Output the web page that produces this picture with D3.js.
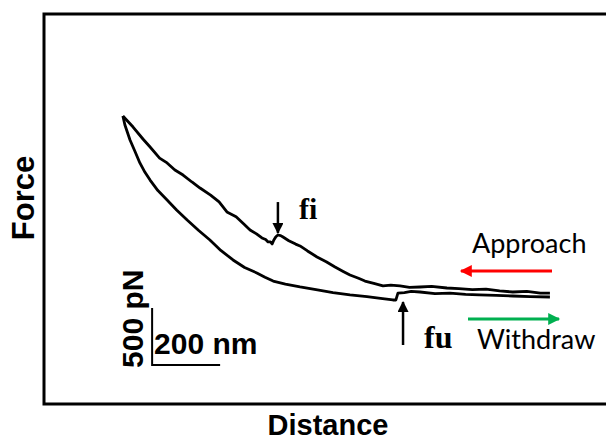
<!DOCTYPE html>
<html>
<head>
<meta charset="utf-8">
<script src="https://cdn.jsdelivr.net/npm/d3@7"></script>
<style>
  html, body { margin: 0; padding: 0; background: #fff; }
  .axis-label { font-family: "Liberation Sans", Arial, sans-serif; font-weight: bold; }
  .event { font-family: "Liberation Serif", "Times New Roman", serif; font-weight: bold; }
  .dir { font-family: Lato, "Open Sans", sans-serif; }
</style>
</head>
<body>
<div id="chart"></div>
<script>
const width = 606;
const height = 442;

// approach trace (upper, with the fi event), distance in nm, force in pN
const approach_nm = [232, 262, 291, 312, 340, 362, 385, 409, 435, 459, 490, 515, 538, 565, 590, 606, 625, 641, 652, 659, 666, 671, 676, 682, 688, 696, 703, 720, 740, 753, 775, 803, 830, 856, 880, 900, 925, 944, 970, 997, 1020, 1047, 1075, 1106, 1140, 1185, 1220, 1260, 1300, 1340, 1379, 1420, 1460, 1488];
const approach_pN = [1544, 1447, 1342, 1272, 1175, 1132, 1070, 1026, 965, 912, 850, 790, 702, 660, 590, 544, 510, 474, 460, 439, 440, 421, 456, 485, 500, 495, 482, 450, 420, 404, 360, 307, 265, 219, 180, 149, 120, 96, 75, 53, 60, 53, 40, 44, 50, 35, 30, 20, 25, 10, 0, 5, -10, -9];

// withdraw trace (lower, with the fu event)
const withdraw_nm = [232, 238, 253, 268, 282, 297, 312, 335, 362, 390, 421, 455, 488, 520, 556, 590, 626, 650, 674, 710, 753, 800, 850, 900, 950, 990, 1026, 1035, 1041, 1060, 1080, 1106, 1150, 1194, 1240, 1280, 1330, 1379, 1430, 1488];
const withdraw_pN = [1544, 1465, 1333, 1230, 1132, 1050, 982, 890, 807, 720, 632, 540, 456, 365, 281, 215, 167, 130, 96, 70, 44, 20, -5, -26, -40, -55, -70, -70, -9, -5, 5, 0, -15, -9, -20, -25, -30, -35, -40, -44];

// event arrows: [x nm, tail pN, tip pN]
const fi_arrow = [688, 789, 518];
const fu_arrow = [1056, -465, -88];
const event_labels = ["fi", "fu"];

// scale bar
const bar_origin = [318, -640];
const bar_nm = 200;
const bar_pN = 500;
const bar_labels = ["200 nm", "500 pN"];

const axis_titles = ["Distance", "Force"];
const direction_labels = ["Approach", "Withdraw"];

const x_scale = d3.scaleLinear()
  .domain([0, 1650])
  .range([44, 44 + 1650 * 0.34]);
const y_scale = d3.scaleLinear()
  .domain([-1000, 2450])
  .range([292 + 1000 * 0.114, 292 - 2450 * 0.114]);

const svg = d3.select('#chart')
  .append('svg')
    .attr('width', width)
    .attr('height', height);

// frame
svg.append('path')
  .attr('d', `M${width + 5},14 H44 V404 H${width + 5}`)
  .attr('fill', 'none')
  .attr('stroke', '#000')
  .attr('stroke-width', 3);

const line = d3.line()
  .x(d => x_scale(d[0]))
  .y(d => y_scale(d[1]));

const traces = [
  d3.zip(approach_nm, approach_pN),
  d3.zip(withdraw_nm, withdraw_pN)
];
svg.selectAll('.trace')
    .data(traces)
  .join('path')
    .attr('class', 'trace')
    .attr('d', line)
    .attr('fill', 'none')
    .attr('stroke', '#000')
    .attr('stroke-width', 2.8)
    .attr('stroke-linejoin', 'round');

// arrowheads
const defs = svg.append('defs');
const marker = (id, color, w, h) => {
  defs.append('marker')
      .attr('id', id)
      .attr('viewBox', '0 0 10 10')
      .attr('refX', 9)
      .attr('refY', 5)
      .attr('markerUnits', 'userSpaceOnUse')
      .attr('markerWidth', w)
      .attr('markerHeight', h)
      .attr('orient', 'auto')
    .append('path')
      .attr('d', 'M0,0 L10,5 L0,10 Z')
      .attr('fill', color);
};
marker('head-black', '#000', 14, 11);
marker('head-red', '#ff0000', 14, 12);
marker('head-green', '#00b050', 14, 12);

[fi_arrow, fu_arrow].forEach(a => {
  svg.append('line')
    .attr('x1', x_scale(a[0]))
    .attr('x2', x_scale(a[0]))
    .attr('y1', y_scale(a[1]))
    .attr('y2', y_scale(a[2]))
    .attr('stroke', '#000')
    .attr('stroke-width', 2.5)
    .attr('marker-end', 'url(#head-black)');
});

svg.append('text')
  .attr('class', 'event')
  .attr('x', x_scale(fi_arrow[0]) + 21)
  .attr('y', y_scale(fi_arrow[1]) + 17)
  .attr('font-size', 30)
  .text(event_labels[0]);
svg.append('text')
  .attr('class', 'event')
  .attr('x', x_scale(fu_arrow[0]) + 21)
  .attr('y', y_scale(fu_arrow[1]) + 3)
  .attr('font-size', 32)
  .text(event_labels[1]);

// scale bar
const bx = x_scale(bar_origin[0]);
const by = y_scale(bar_origin[1]);
svg.append('path')
  .attr('d', `M${bx},${y_scale(bar_origin[1] + bar_pN)} V${by} H${x_scale(bar_origin[0] + bar_nm)}`)
  .attr('fill', 'none')
  .attr('stroke', '#000')
  .attr('stroke-width', 2);
svg.append('text')
  .attr('class', 'axis-label')
  .attr('x', bx + 2)
  .attr('y', by - 11)
  .attr('font-size', 30)
  .text(bar_labels[0]);
svg.append('text')
  .attr('class', 'axis-label')
  .attr('transform', `translate(${bx - 9},${by + 3}) rotate(-90)`)
  .attr('font-size', 30)
  .text(bar_labels[1]);

// direction arrows
svg.append('line')
  .attr('x1', 552).attr('x2', 461)
  .attr('y1', 271).attr('y2', 271)
  .attr('stroke', '#ff0000')
  .attr('stroke-width', 3)
  .attr('marker-end', 'url(#head-red)');
svg.append('line')
  .attr('x1', 468).attr('x2', 559)
  .attr('y1', 319).attr('y2', 319)
  .attr('stroke', '#00b050')
  .attr('stroke-width', 3)
  .attr('marker-end', 'url(#head-green)');
svg.append('text')
  .attr('class', 'dir')
  .attr('x', 472)
  .attr('y', 253)
  .attr('font-size', 27)
  .text(direction_labels[0]);
svg.append('text')
  .attr('class', 'dir')
  .attr('x', 477)
  .attr('y', 349)
  .attr('font-size', 27)
  .text(direction_labels[1]);

// axis titles
svg.append('text')
  .attr('class', 'axis-label')
  .attr('x', 328)
  .attr('y', 435)
  .attr('text-anchor', 'middle')
  .attr('font-size', 29)
  .text(axis_titles[0]);
svg.append('text')
  .attr('class', 'axis-label')
  .attr('transform', 'translate(34,198) rotate(-90)')
  .attr('text-anchor', 'middle')
  .attr('font-size', 31)
  .text(axis_titles[1]);
</script>
</body>
</html>
